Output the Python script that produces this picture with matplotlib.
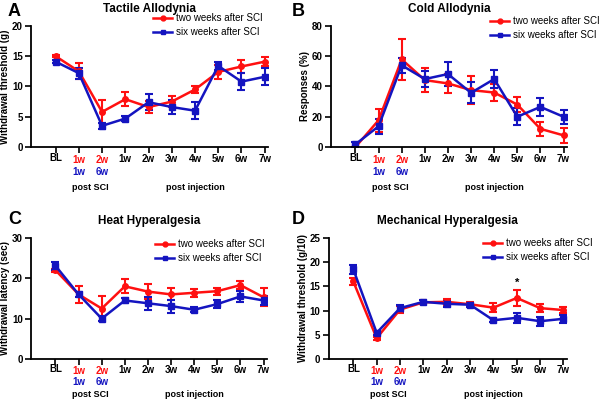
import matplotlib.pyplot as plt
from matplotlib.lines import Line2D
import numpy as np

plt.rcParams['font.family'] = ['Liberation Sans', 'DejaVu Sans']

# time points: BL, post SCI (2), post injection 1w..7w
x = np.arange(10)
inj_labels = ["1w", "2w", "3w", "4w", "5w", "6w", "7w"]

# A - tactile allodynia
a_red = [15.0, 12.5, 5.8, 7.9, 6.6, 7.5, 9.5, 12.4, 13.3, 14.1]
a_red_err = [0.2, 1.3, 1.9, 1.2, 1.0, 0.9, 0.6, 1.2, 1.1, 0.7]
a_blue = [14.1, 12.2, 3.5, 4.7, 7.4, 6.6, 6.0, 13.4, 10.8, 11.6]
a_blue_err = [0.3, 0.9, 0.5, 0.4, 1.3, 1.2, 1.4, 0.6, 1.4, 1.4]

# B - cold allodynia
b_red = [0.0, 17.7, 57.9, 44.2, 42.0, 37.6, 36.0, 28.0, 12.0, 7.7]
b_red_err = [0.3, 7.5, 13.5, 8.0, 6.0, 9.0, 5.5, 5.0, 4.5, 5.0]
b_blue = [1.8, 13.7, 54.0, 44.9, 48.2, 35.8, 44.9, 20.0, 26.5, 20.0]
b_blue_err = [1.5, 5.0, 5.0, 5.0, 8.0, 7.0, 6.0, 5.5, 6.0, 4.5]

# C - heat hyperalgesia
c_red = [22.0, 16.0, 12.5, 18.0, 16.7, 16.0, 16.4, 16.8, 18.3, 15.3]
c_red_err = [0.4, 2.2, 3.2, 1.7, 1.8, 1.5, 1.0, 0.9, 1.0, 2.2]
c_blue = [23.1, 16.0, 10.0, 14.5, 13.8, 13.1, 12.2, 13.6, 15.5, 14.5]
c_blue_err = [1.0, 0.7, 0.7, 0.7, 1.6, 1.6, 0.6, 1.0, 1.3, 1.2]

# D - mechanical hyperalgesia
d_red = [16.0, 4.3, 10.2, 11.7, 11.8, 11.3, 10.6, 12.6, 10.5, 10.1]
d_red_err = [0.7, 0.3, 0.8, 0.4, 0.6, 0.4, 1.0, 1.6, 0.9, 0.6]
d_blue = [18.5, 5.4, 10.5, 11.8, 11.4, 11.2, 8.0, 8.5, 7.8, 8.3]
d_blue_err = [0.9, 0.4, 0.7, 0.4, 0.6, 0.4, 0.4, 1.0, 0.9, 0.8]

RED = '#ff1010'
BLUE = '#1414c0'
W, H = 600.0, 405.0

fig = plt.figure(figsize=(6.0, 4.05), dpi=100)

# letter pos (px), axes rect, legend top-left (px), label offsets (px)
panels = [
    ("A", "Tactile Allodynia", "Withdrawal threshold (g)", a_red, a_red_err, a_blue, a_blue_err,
     20, 5, (8, 11), [0.052, 0.637, 0.395, 0.299], (153, 13), (13, 25, 40)),
    ("B", "Cold Allodynia", "Responses (%)", b_red, b_red_err, b_blue, b_blue_err,
     80, 20, (292, 11), [0.552, 0.637, 0.393, 0.299], (490, 16), (13, 25, 40)),
    ("C", "Heat Hyperalgesia", "Withdrawal latency (sec)", c_red, c_red_err, c_blue, c_blue_err,
     30, 10, (8, 219), [0.052, 0.1136, 0.393, 0.299], (155, 239), (12, 23, 36)),
    ("D", "Mechanical Hyperalgesia", "Withdrawal threshold (g/10)", d_red, d_red_err, d_blue, d_blue_err,
     25, 5, (292, 219), [0.548, 0.1136, 0.397, 0.299], (483, 238), (12, 23, 36)),
]

for letter, title, ylab, r, re, b, be, ymax, ystep, lpos, pos, legpos, offs in panels:
    ax = fig.add_axes(pos)
    ax.errorbar(x, r, yerr=re, color=RED, marker='o', ms=4, lw=1.8, capsize=3,
                elinewidth=1.5, capthick=1.5)
    ax.errorbar(x, b, yerr=be, color=BLUE, marker='s', ms=4, lw=1.8, capsize=3,
                elinewidth=1.5, capthick=1.5)
    ax.set_xlim(-1.05, 9.15)
    ax.set_ylim(0, ymax)
    ax.set_yticks(np.arange(0, ymax + 1, ystep))
    ax.set_xticks(x)
    ax.set_xticklabels([])
    ax.spines['top'].set_visible(False)
    ax.spines['right'].set_visible(False)
    for s in ('left', 'bottom'):
        ax.spines[s].set_linewidth(1.3)
    ax.tick_params(direction='out', length=4, width=1.2, labelsize=7, pad=2)
    for t in ax.get_yticklabels():
        t.set_fontweight('bold')
    ax.set_ylabel(ylab, fontsize=7, fontweight='bold')
    ax.yaxis.set_label_coords(-0.088, 0.5)
    ax.set_title(title, fontsize=8.5, fontweight='bold', pad=10)
    fig.text(lpos[0] / W, 1 - lpos[1] / H, letter, fontsize=13, fontweight='bold',
             va='center', ha='left')

    o1, o2, o3 = offs
    def lab(xx, s, off, c='black', fs=7):
        ax.annotate(s, xy=(xx, 0), xycoords=('data', 'axes fraction'),
                    xytext=(0, -off), textcoords='offset pixels',
                    ha='center', va='center', fontsize=fs, fontweight='bold', color=c)
    lab(0, "BL", o1 - 2)
    lab(1, "1w", o1, RED)
    lab(1, "1w", o2, BLUE)
    lab(2, "2w", o1, RED)
    lab(2, "6w", o2, BLUE)
    for i, s in enumerate(inj_labels):
        lab(3 + i, s, o1 - 1)
    lab(1.5, "post SCI", o3, fs=6.5)
    lab(6, "post injection", o3, fs=6.5)

    handles = [Line2D([], [], color=RED, marker='o', ms=3.5, lw=1.8),
               Line2D([], [], color=BLUE, marker='s', ms=3.5, lw=1.8)]
    fig.legend(handles, ["two weeks after SCI", "six weeks after SCI"],
               loc='upper left', bbox_to_anchor=(legpos[0] / W, 1 - legpos[1] / H),
               frameon=False, fontsize=7, handlelength=2.0, handletextpad=0.4,
               labelspacing=0.45, borderaxespad=0, borderpad=0)

    if letter == "D":
        ax.text(7, d_red[7] + d_red_err[7] + 0.4, "*", ha='center', va='bottom',
                fontsize=8, fontweight='bold')

fig.savefig("out.png", dpi=100)
